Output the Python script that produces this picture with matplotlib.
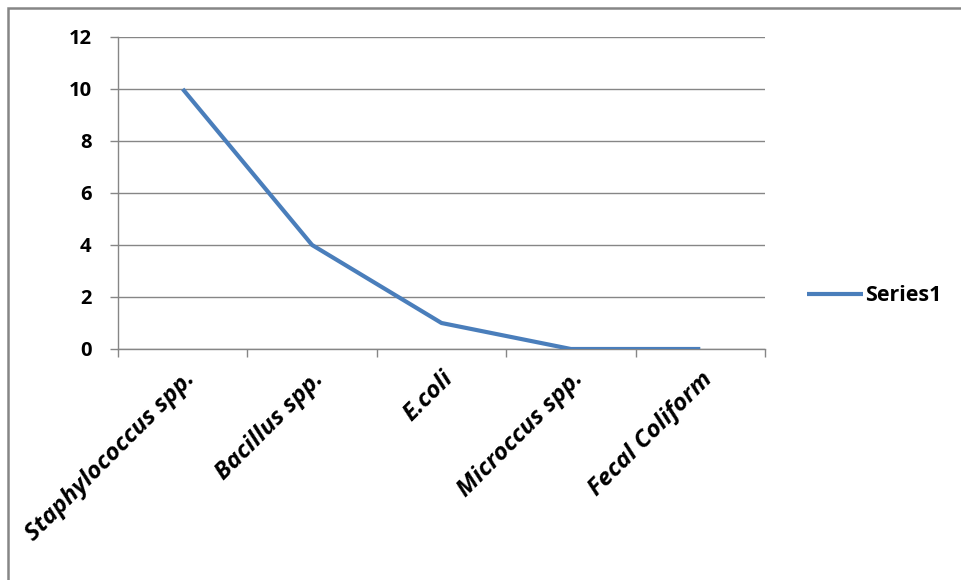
import matplotlib.pyplot as plt
from matplotlib.patches import Rectangle

# Isolate counts per organism
organisms = ["Staphylococcus spp.", "Bacillus spp.", "E.coli", "Microccus spp.", "Fecal Coliform"]
counts = [10, 4, 1, 0, 0]
y_ticks = [0, 2, 4, 6, 8, 10, 12]

plt.rcParams["font.family"] = ["Open Sans", "DejaVu Sans"]
plt.rcParams["font.weight"] = "bold"

fig = plt.figure(figsize=(9.61, 5.8), dpi=100)
ax = fig.add_axes([118 / 961, 1 - 349 / 580, (765 - 118) / 961, (349 - 37) / 580])

grid_col = "#868686"
x = list(range(len(organisms)))
ax.plot(x, counts, color="#4A7EBB", linewidth=3.0, solid_capstyle="butt", label="Series1", zorder=3)

ax.set_xlim(-0.5, len(organisms) - 0.5)
ax.set_ylim(0, 12)
ax.set_yticks(y_ticks)
ax.set_yticklabels([str(v) for v in y_ticks], fontsize=14.5, fontweight="bold")
ax.yaxis.grid(True, color=grid_col, linewidth=1.0)
ax.set_axisbelow(True)

# category labels sit between boundary ticks
ax.set_xticks([i - 0.5 for i in range(len(organisms) + 1)])
ax.set_xticklabels([])
ax.set_xticks(x, minor=True)
ax.set_xticklabels(organisms, minor=True, rotation=45, ha="right", va="top",
                   rotation_mode="anchor", fontsize=17.5, fontweight="bold", fontstyle="italic")
ax.tick_params(axis="x", which="minor", length=0, pad=13)
ax.tick_params(axis="x", which="major", direction="out", length=6, color=grid_col, width=1.0)
ax.tick_params(axis="y", direction="out", length=6, color=grid_col, width=1.0, pad=13)

for side in ["top", "right"]:
    ax.spines[side].set_visible(False)
for side in ["left", "bottom"]:
    ax.spines[side].set_color(grid_col)
    ax.spines[side].set_linewidth(1.0)

leg = ax.legend(loc="center left", bbox_to_anchor=(1.035, 0.17), frameon=False,
                handlelength=2.6, handletextpad=0.1, prop={"size": 15.5, "weight": "bold"})

# chart area outline
fig.patches.append(Rectangle((8 / 961, -0.1), 1.1, 1 - 8 / 580 + 0.1, transform=fig.transFigure,
                             fill=False, edgecolor="#868686", linewidth=1.8))

fig.savefig("out.png", dpi=100)
